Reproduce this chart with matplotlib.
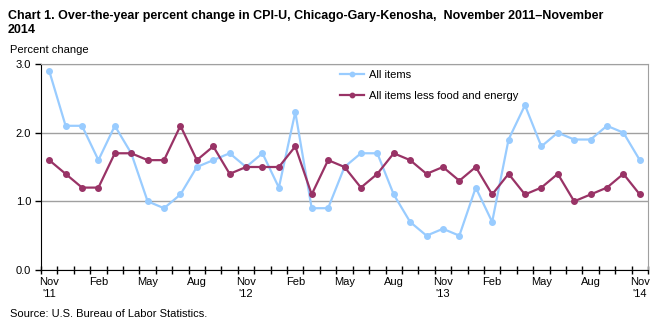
import matplotlib
matplotlib.use("Agg")
import matplotlib.pyplot as plt
import numpy as np

plt.rcParams["font.family"] = ["Liberation Sans", "DejaVu Sans"]

# Monthly over-the-year changes, Nov 2011 .. Nov 2014
months = ["Nov", "Dec", "Jan", "Feb", "Mar", "Apr", "May", "Jun", "Jul", "Aug", "Sep", "Oct"] * 3 + ["Nov"]
years = ["'11", "'12", "'13", "'14"]
all_items = [2.9, 2.1, 2.1, 1.6, 2.1, 1.7, 1.0, 0.9, 1.1, 1.5, 1.6, 1.7,
             1.5, 1.7, 1.2, 2.3, 0.9, 0.9, 1.5, 1.7, 1.7, 1.1, 0.7, 0.5,
             0.6, 0.5, 1.2, 0.7, 1.9, 2.4, 1.8, 2.0, 1.9, 1.9, 2.1, 2.0,
             1.6]
core = [1.6, 1.4, 1.2, 1.2, 1.7, 1.7, 1.6, 1.6, 2.1, 1.6, 1.8, 1.4,
        1.5, 1.5, 1.5, 1.8, 1.1, 1.6, 1.5, 1.2, 1.4, 1.7, 1.6, 1.4,
        1.5, 1.3, 1.5, 1.1, 1.4, 1.1, 1.2, 1.4, 1.0, 1.1, 1.2, 1.4,
        1.1]

x = np.arange(len(all_items))

fig = plt.figure(figsize=(6.59, 3.26), dpi=100)
ax = fig.add_axes([41 / 659, 56 / 326, 607 / 659, 206 / 326])

ax.plot(x, all_items, color="#99CCFF", lw=1.6, marker="o", ms=4, label="All items", zorder=3)
ax.plot(x, core, color="#993366", lw=1.6, marker="o", ms=4, label="All items less food and energy", zorder=4)

ax.set_xlim(-0.5, len(x) - 0.5)
ax.set_ylim(0, 3.0)
ax.set_yticks([0, 1, 2, 3])
ax.set_yticklabels(["0.0", "1.0", "2.0", "3.0"], fontsize=8)
ax.yaxis.grid(True, color="#A0A0A0", lw=1)
ax.set_axisbelow(True)

# tick marks sit between months, labels under every third month
ax.set_xticks(np.arange(len(x) + 1) - 0.5)
ax.set_xticklabels([])
ax.set_xticks(x[::3], minor=True)
labels = []
for i in x[::3]:
    lab = months[i]
    if lab == "Nov":
        lab += "\n" + years[i // 12]
    labels.append(lab)
ax.set_xticklabels(labels, minor=True, fontsize=8, va="top", linespacing=1.25)
ax.tick_params(axis="x", which="major", direction="inout", length=6, width=1)
ax.tick_params(axis="x", which="minor", length=0, pad=5)
ax.tick_params(axis="y", direction="out", length=4, width=1, pad=3)

for s in ["top", "right"]:
    ax.spines[s].set_color("#A0A0A0")
for s in ["left", "bottom"]:
    ax.spines[s].set_color("black")

ax.legend(loc="upper left", bbox_to_anchor=(340 / 659, 1 - 70 / 326), bbox_transform=fig.transFigure,
          frameon=False, fontsize=8, handlelength=2.2, handletextpad=0.4, labelspacing=1.0,
          borderaxespad=0, borderpad=0, markerscale=0.8)

# two-line bold title
fig.text(8 / 659, 1 - 19 / 326,
         "Chart 1. Over-the-year percent change in CPI-U, Chicago-Gary-Kenosha,  November 2011\u2013November",
         fontsize=9, fontweight="bold", va="baseline", ha="left")
fig.text(8 / 659, 1 - 33 / 326, "2014", fontsize=9, fontweight="bold", va="baseline", ha="left")
fig.text(10 / 659, 1 - 50 / 326, "Percent change", fontsize=8, va="center", ha="left")
fig.text(10 / 659, 1 - 314 / 326, "Source: U.S. Bureau of Labor Statistics.", fontsize=8, va="center", ha="left")

fig.savefig("out.png", dpi=100)
